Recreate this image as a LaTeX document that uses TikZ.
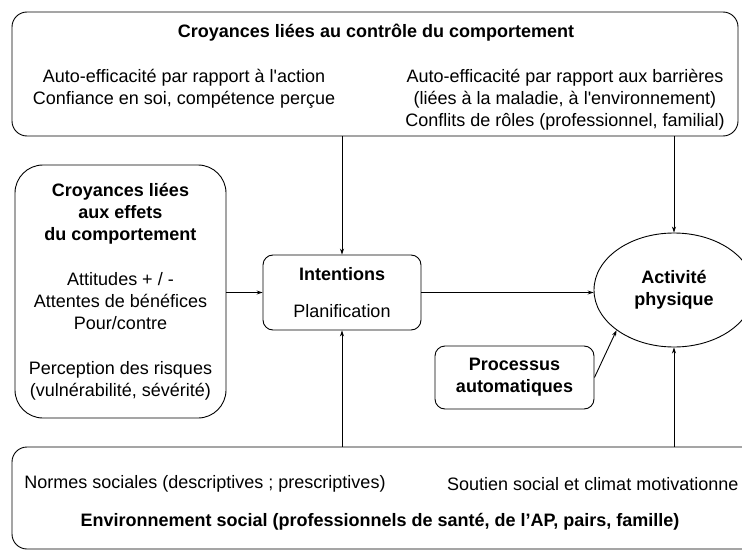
\documentclass[tikz,border=0pt]{standalone}
\usepackage{fontspec}
\setmainfont{Liberation Sans}
\usetikzlibrary{shapes.geometric,arrows.meta}

\begin{document}
\begin{tikzpicture}[x=1pt,y=-1pt,
	txt/.style={align=center,inner sep=0pt,font=\fontsize{18}{22}\selectfont},
	box/.style={draw,line width=0.9pt,rounded corners=#1,txt},
	box/.default=10pt,
	>={Stealth[length=6pt,width=4pt]}]
		\useasboundingbox (0,0) rectangle (742,551);
		\clip (0,0) rectangle (742,551);
		\node[box=15pt,minimum width=726pt,minimum height=124pt](ctrl) at (375,74) {};
		\node[box=28pt,minimum width=211pt,minimum height=253pt](effets) at (120.5,291.5)
			{\textbf{Croyances liées}\\\textbf{aux effets}\\\textbf{du comportement}\\[23pt]
			Attitudes + / -\\Attentes de bénéfices\\Pour/contre\\[23pt]
			Perception des risques\\(vulnérabilité, sévérité)};
		\node[box,minimum width=158pt,minimum height=75pt](intent) at (342,292.5)
			{\textbf{Intentions}\\[15pt]Planification};
		\node[draw,line width=0.9pt,ellipse,txt,minimum width=160pt,minimum height=114pt](ap) at (674,290)
			{\textbf{Activité}\\\textbf{physique}};
		\node[box,minimum width=159pt,minimum height=63pt](proc) at (514.5,377.5)
			{\textbf{Processus}\\\textbf{automatiques}};
		\node[box=15pt,minimum width=758pt,minimum height=102pt](env) at (391,498) {};
		% textes des deux grands cadres
		\node[txt](ctrltitle) at (376,33) {\textbf{Croyances liées au contrôle du comportement}};
		\node[txt](ctrlleft) at (184,89) {Auto-efficacité par rapport à l\textquotesingle action\\Confiance en soi, compétence perçue};
		\node[txt](ctrlright) at (565,100) {Auto-efficacité par rapport aux barrières\\(liées à la maladie, à l\textquotesingle environnement)\\Conflits de rôles (professionnel, familial)};
		\node[txt](normes) at (205,484) {Normes sociales (descriptives ; prescriptives)};
		\node[txt,anchor=west](soutien) at (447,484) {Soutien social et climat motivationne};
		\node[txt](envtitle) at (380,522) {\textbf{Environnement social (professionnels de santé, de l’AP, pairs, famille)}};
		\path[->,line width=0.9pt]
		(intent.west -| effets.east) edge (intent.west)
		(intent.east) edge (intent.east -| ap.west)
		(ctrl.south -| intent.north) edge (intent.north)
		(ctrl.south -| ap.north) edge (ap.north)
		(env.north -| intent.south) edge (intent.south)
		(env.north -| ap.south) edge (ap.south)
		(proc.east) edge (ap.215);
		
		\end{tikzpicture}
\end{document}
